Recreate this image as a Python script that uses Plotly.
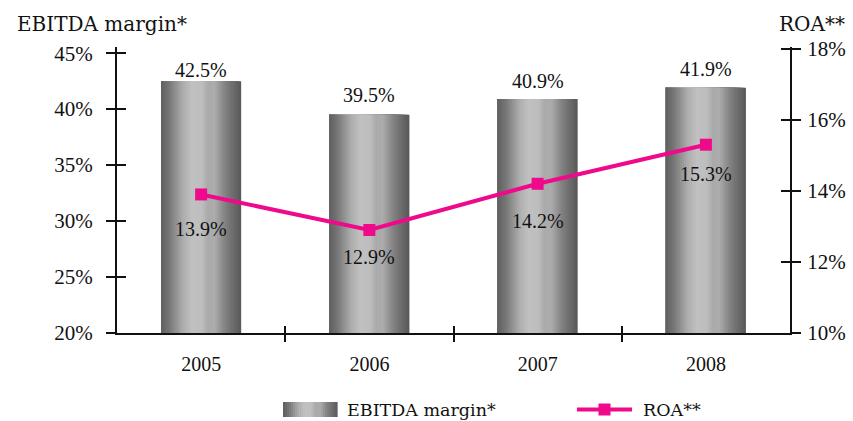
import plotly.graph_objects as go

# Data
years = ["2005", "2006", "2007", "2008"]
ebitda_margin = [42.5, 39.5, 40.9, 41.9]
roa = [13.9, 12.9, 14.2, 15.3]
left_ticks = [20, 25, 30, 35, 40, 45]
right_ticks = [10, 12, 14, 16, 18]

# Styling
TEXT_FONT = "DejaVu Serif"
NUM_FONT = "Liberation Serif"
INK = "#111111"
PINK = "#EE0A8B"
BAR_W = 0.476
N_LAYERS = 40
LEFT_RANGE = [20, 45.55]
RIGHT_RANGE = [10, 18.05]
# gray gradient stops across a bar (position 0..1 -> gray level)
GRAD = [(0.0, 92), (0.12, 120), (0.28, 172), (0.40, 192), (0.52, 190),
        (0.60, 170), (0.68, 172), (0.82, 128), (1.0, 90)]
bar_label_shift = [11, 20, 18, 19]
roa_label_shift = [-35, -27, -37, -29]


def gray_at(p):
    for (p0, g0), (p1, g1) in zip(GRAD[:-1], GRAD[1:]):
        if p0 <= p <= p1:
            t = (p - p0) / (p1 - p0) if p1 > p0 else 0
            g = round(g0 + (g1 - g0) * t)
            return f"rgb({g},{g},{g})"
    g = GRAD[-1][1]
    return f"rgb({g},{g},{g})"


xs = list(range(len(years)))
boundaries = [i + 0.5 for i in xs[:-1]]
fig = go.Figure()

# Gradient bars: nested layers anchored at the left edge, widest first
for k in range(N_LAYERS):
    frac = (N_LAYERS - k) / N_LAYERS
    fig.add_trace(go.Bar(
        x=xs, y=ebitda_margin, width=BAR_W * frac, offset=-BAR_W / 2,
        marker=dict(color=gray_at(frac), line=dict(width=0)),
        showlegend=False, hoverinfo="skip" if k else "y", name="EBITDA margin*",
    ))

fig.add_trace(go.Scatter(
    x=xs, y=roa, yaxis="y2", mode="lines+markers", name="ROA**",
    line=dict(color=PINK, width=4),
    marker=dict(symbol="square", size=12, color=PINK),
    showlegend=False,
))

# empty traces so the tick-only overlay axes get drawn
for xa, ya in [("x", "y3"), ("x", "y4"), ("x2", "y")]:
    fig.add_trace(go.Scatter(x=[None], y=[None], xaxis=xa, yaxis=ya,
                             mode="markers", showlegend=False, hoverinfo="skip"))

annotations = []
for x, v, s in zip(xs, ebitda_margin, bar_label_shift):
    annotations.append(dict(x=x, y=v, xref="x", yref="y", text=f"{v:.1f}%",
                            showarrow=False, yanchor="middle", yshift=s,
                            font=dict(family=NUM_FONT, size=20, color=INK)))
for x, v, s in zip(xs, roa, roa_label_shift):
    annotations.append(dict(x=x, y=v, xref="x", yref="y2", text=f"{v:.1f}%",
                            showarrow=False, yanchor="middle", yshift=s,
                            font=dict(family=NUM_FONT, size=20, color=INK)))

# axis titles
annotations.append(dict(x=-0.1516, y=1.08, xref="paper", yref="paper",
                        text="EBITDA margin*", showarrow=False, xanchor="left",
                        yanchor="middle", font=dict(family=TEXT_FONT, size=20, color=INK)))
annotations.append(dict(x=1.0847, y=1.08, xref="paper", yref="paper",
                        text="ROA**", showarrow=False, xanchor="right",
                        yanchor="middle", font=dict(family=TEXT_FONT, size=20, color=INK)))

# legend texts
LEG_Y = -0.2675
annotations.append(dict(x=0.3388, y=LEG_Y, xref="paper", yref="paper",
                        text="EBITDA margin*", showarrow=False, xanchor="left",
                        yanchor="middle", font=dict(family=TEXT_FONT, size=17.5, color=INK)))
annotations.append(dict(x=0.7786, y=LEG_Y, xref="paper", yref="paper",
                        text="ROA**", showarrow=False, xanchor="left",
                        yanchor="middle", font=dict(family=TEXT_FONT, size=17.5, color=INK)))

shapes = []
# legend swatch: gradient rectangle
SW_X, SW_W, SW_H = 0.2467, 54, 15
n_sw = 27
for i in range(n_sw):
    p0, p1 = i / n_sw, (i + 1) / n_sw
    shapes.append(dict(type="rect", xref="paper", yref="paper",
                       xsizemode="pixel", ysizemode="pixel",
                       xanchor=SW_X, yanchor=LEG_Y,
                       x0=p0 * SW_W, x1=p1 * SW_W + 0.6, y0=-SW_H / 2, y1=SW_H / 2,
                       fillcolor=gray_at((p0 + p1) / 2), line=dict(width=0)))
# legend: line with square marker
shapes.append(dict(type="line", xref="paper", yref="paper", xsizemode="pixel",
                   ysizemode="pixel", xanchor=0.6835, yanchor=LEG_Y,
                   x0=0, x1=55, y0=0, y1=0, line=dict(color=PINK, width=4)))
shapes.append(dict(type="rect", xref="paper", yref="paper", xsizemode="pixel",
                   ysizemode="pixel", xanchor=0.6835, yanchor=LEG_Y,
                   x0=21.5, x1=33.5, y0=-6, y1=6, fillcolor=PINK, line=dict(width=0)))

numfont = dict(family=NUM_FONT, size=21, color=INK)
tick_common = dict(tickcolor=INK, tickwidth=2, showgrid=False, zeroline=False,
                   automargin=False)
inner = dict(ticks="inside", ticklen=9, showticklabels=False, showline=False,
             **tick_common)

fig.update_layout(
    width=853, height=421,
    margin=dict(l=117, r=63, t=47, b=88),
    paper_bgcolor="white", plot_bgcolor="white",
    barmode="overlay",
    showlegend=False,
    xaxis=dict(range=[-0.5, 3.5], tickvals=xs, ticktext=years, ticks="",
               minor=dict(tickvals=boundaries, ticks="outside", ticklen=7,
                          tickwidth=2, tickcolor=INK),
               showline=True, linecolor=INK, linewidth=2, showgrid=False,
               zeroline=False, automargin=False,
               tickfont=dict(family=NUM_FONT, size=20, color=INK),
               ticklabelstandoff=12, fixedrange=True),
    xaxis2=dict(range=[-0.5, 3.5], overlaying="x", tickvals=boundaries,
                ticks="inside", ticklen=7, showticklabels=False, showline=False,
                **tick_common),
    yaxis=dict(range=LEFT_RANGE, tickvals=left_ticks,
               ticktext=[f"{t}%" for t in left_ticks], ticks="outside", ticklen=9,
               showline=True, linecolor=INK, linewidth=2,
               tickfont=numfont, ticklabelstandoff=9, **tick_common),
    yaxis3=dict(range=LEFT_RANGE, tickvals=left_ticks, overlaying="y",
                side="left", **inner),
    yaxis2=dict(range=RIGHT_RANGE, tickvals=right_ticks,
                ticktext=[f"{t}%" for t in right_ticks], ticks="outside", ticklen=9,
                overlaying="y", side="right",
                showline=True, linecolor=INK, linewidth=2,
                tickfont=numfont, ticklabelstandoff=2, **tick_common),
    yaxis4=dict(range=RIGHT_RANGE, tickvals=right_ticks, overlaying="y",
                side="right", **inner),
    annotations=annotations,
    shapes=shapes,
)

fig.write_html("out.html")
